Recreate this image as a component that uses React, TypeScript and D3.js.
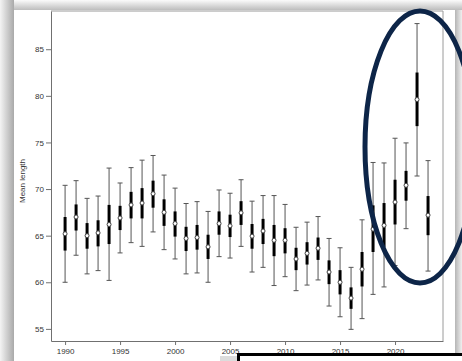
import React, { useRef, useEffect } from 'react';
import * as d3 from 'd3';

// one row per survey year
const years = [
  1990, 1991, 1992, 1993, 1994, 1995, 1996, 1997, 1998, 1999, 2000,
  2001, 2002, 2003, 2004, 2005, 2006, 2007, 2008, 2009, 2010, 2011,
  2012, 2013, 2014, 2015, 2016, 2017, 2018, 2019, 2020, 2021, 2022, 2023,
];
const means = [
  65.2, 67.0, 65.0, 65.3, 66.2, 66.9, 68.3, 68.5, 69.5, 67.5, 66.3,
  64.7, 64.8, 63.8, 66.3, 66.05, 67.45, 64.95, 65.5, 64.5, 64.5, 62.5,
  63.1, 63.65, 61.1, 60.0, 58.3, 61.4, 65.7, 66.1, 68.6, 70.4, 79.6, 67.2,
];
// thick bar (inner interval)
const innerLow = [
  63.4, 65.55, 63.6, 63.85, 64.1, 65.6, 66.85, 66.85, 68.0, 66.05, 64.9,
  63.35, 63.5, 62.5, 65.1, 64.85, 66.15, 63.6, 64.1, 62.8, 63.1, 61.3,
  61.9, 62.4, 59.8, 58.7, 57.15, 59.55, 63.25, 63.8, 66.2, 68.75, 76.75, 65.05,
];
const innerHigh = [
  67.0, 68.35, 66.35, 66.65, 68.3, 68.2, 69.7, 70.1, 70.9, 68.9, 67.6,
  65.95, 66.15, 65.1, 67.6, 67.25, 68.7, 66.25, 66.8, 66.15, 65.8, 63.7,
  64.3, 64.8, 62.35, 61.3, 59.45, 63.25, 68.25, 68.5, 71.0, 71.95, 82.5, 69.25,
];
// thin whisker
const whiskerLow = [
  60.0, 62.9, 60.9, 61.25, 60.2, 63.15, 64.25, 63.85, 65.4, 63.5, 62.5,
  60.9, 61.0, 60.0, 62.75, 62.6, 63.85, 61.1, 61.6, 59.65, 60.6, 59.1,
  59.7, 60.25, 57.45, 56.3, 54.95, 56.1, 58.7, 59.5, 61.8, 65.75, 71.4, 61.2,
];
const whiskerHigh = [
  70.4, 70.9, 69.0, 69.25, 72.25, 70.65, 72.3, 73.1, 73.6, 71.5, 70.1,
  68.45, 68.65, 67.6, 69.9, 69.55, 71.0, 68.7, 69.3, 69.3, 68.35, 65.9,
  66.45, 67.05, 64.7, 63.7, 61.6, 66.7, 72.85, 72.8, 75.45, 74.95, 87.75, 73.05,
];
const yTicks = [55, 60, 65, 70, 75, 80, 85];
const xTicks = [1990, 1995, 2000, 2005, 2010, 2015, 2020];

const W = 462;
const H = 361;

const App = () => {
  const svgRef = useRef<SVGSVGElement>(null);

  useEffect(() => {
    const left = 51;
    const right = 443;
    const top = 11;
    const bottom = 341;

    const x = d3.scaleLinear().domain([1988.72, 2024.36]).range([left, right]);
    const y = d3.scaleLinear().domain([53.7, 89.1]).range([bottom, top]);

    const svg = d3.select(svgRef.current);
    svg.selectAll('*').remove();

    // screenshot frame + drop shadow
    const defs = svg.append('defs');
    const gl = defs.append('linearGradient').attr('id', 'shL');
    gl.append('stop').attr('offset', '0%').attr('stop-color', '#f4f4f4');
    gl.append('stop').attr('offset', '100%').attr('stop-color', '#a9a9a9');
    const gt = defs.append('linearGradient').attr('id', 'shT')
      .attr('x1', 0).attr('y1', 0).attr('x2', 0).attr('y2', 1);
    gt.append('stop').attr('offset', '0%').attr('stop-color', '#fbfbfb');
    gt.append('stop').attr('offset', '100%').attr('stop-color', '#bdbdbd');
    const gr = defs.append('linearGradient').attr('id', 'shR');
    gr.append('stop').attr('offset', '0%').attr('stop-color', '#b5b5b5');
    gr.append('stop').attr('offset', '100%').attr('stop-color', '#efefef');

    svg.append('rect').attr('width', W).attr('height', H).attr('fill', '#f6f6f6');
    svg.append('rect').attr('x', 0).attr('y', 0).attr('width', W).attr('height', 10).attr('fill', 'url(#shT)');
    svg.append('rect').attr('x', 0).attr('y', 0).attr('width', 14).attr('height', H).attr('fill', 'url(#shL)');
    svg.append('rect').attr('x', 455).attr('y', 10).attr('width', 7).attr('height', H).attr('fill', 'url(#shR)');
    svg.append('rect').attr('x', 14).attr('y', 10).attr('width', 441).attr('height', H - 10).attr('fill', '#fff');

    // plot frame
    svg.append('path')
      .attr('d', `M${left},${top}H${right}V${bottom}`)
      .attr('fill', 'none').attr('stroke', '#9a9a9a').attr('stroke-width', 1);

    const yAxis = svg.append('g')
      .attr('transform', `translate(${left},0)`)
      .call(d3.axisLeft(y).tickValues(yTicks).tickSize(5).tickPadding(2).tickSizeOuter(0));
    const xAxis = svg.append('g')
      .attr('transform', `translate(0,${bottom})`)
      .call(d3.axisBottom(x).tickValues(xTicks).tickFormat(d3.format('d')).tickSize(4).tickPadding(3).tickSizeOuter(0));

    [yAxis, xAxis].forEach(ax => {
      ax.attr('font-family', 'Liberation Sans, Arial, sans-serif').attr('font-size', 8);
      ax.select('.domain').attr('stroke', '#707070');
      ax.selectAll('.tick line').attr('stroke', '#707070');
      ax.selectAll('.tick text').attr('fill', '#333');
    });

    svg.append('text')
      .attr('transform', `translate(25,181) rotate(-90)`)
      .attr('text-anchor', 'middle')
      .attr('font-family', 'Liberation Sans, Arial, sans-serif')
      .attr('font-size', 8)
      .attr('fill', '#333')
      .text('Mean length');

    const rows = years.map((yr, i) => ({
      yr, m: means[i], il: innerLow[i], ih: innerHigh[i], wl: whiskerLow[i], wh: whiskerHigh[i],
    }));

    const g = svg.append('g').selectAll('g').data(rows).join('g')
      .attr('transform', d => `translate(${x(d.yr)},0)`);

    g.append('line')
      .attr('y1', d => y(d.wl)).attr('y2', d => y(d.wh))
      .attr('stroke', '#555').attr('stroke-width', 1);
    g.append('line')
      .attr('x1', -2.5).attr('x2', 2.5)
      .attr('y1', d => y(d.wh)).attr('y2', d => y(d.wh))
      .attr('stroke', '#555').attr('stroke-width', 1);
    g.append('line')
      .attr('x1', -2.5).attr('x2', 2.5)
      .attr('y1', d => y(d.wl)).attr('y2', d => y(d.wl))
      .attr('stroke', '#555').attr('stroke-width', 1);
    g.append('line')
      .attr('y1', d => y(d.il)).attr('y2', d => y(d.ih))
      .attr('stroke', '#000').attr('stroke-width', 3);
    g.append('circle')
      .attr('cy', d => y(d.m)).attr('r', 2)
      .attr('fill', '#fff').attr('stroke', '#444').attr('stroke-width', 1);

    // highlight annotation round the last years
    svg.append('ellipse')
      .attr('cx', 420).attr('cy', 147).attr('rx', 55).attr('ry', 136)
      .attr('fill', 'none').attr('stroke', '#0d2548').attr('stroke-width', 5);

    // overlapping box at the bottom edge
    svg.append('rect')
      .attr('x', 220).attr('y', 356).attr('width', 18).attr('height', 10).attr('fill', '#dcdcdc');
    svg.append('rect')
      .attr('x', 238.5).attr('y', 354.5).attr('width', 240).attr('height', 20)
      .attr('fill', '#fff').attr('stroke', '#000').attr('stroke-width', 3);
  }, []);

  return (
    <div style={{ position: 'absolute', left: 0, top: 0, width: W, height: H }}>
      <svg ref={svgRef} width={W} height={H} style={{ display: 'block' }} />
    </div>
  );
};

export default App;
